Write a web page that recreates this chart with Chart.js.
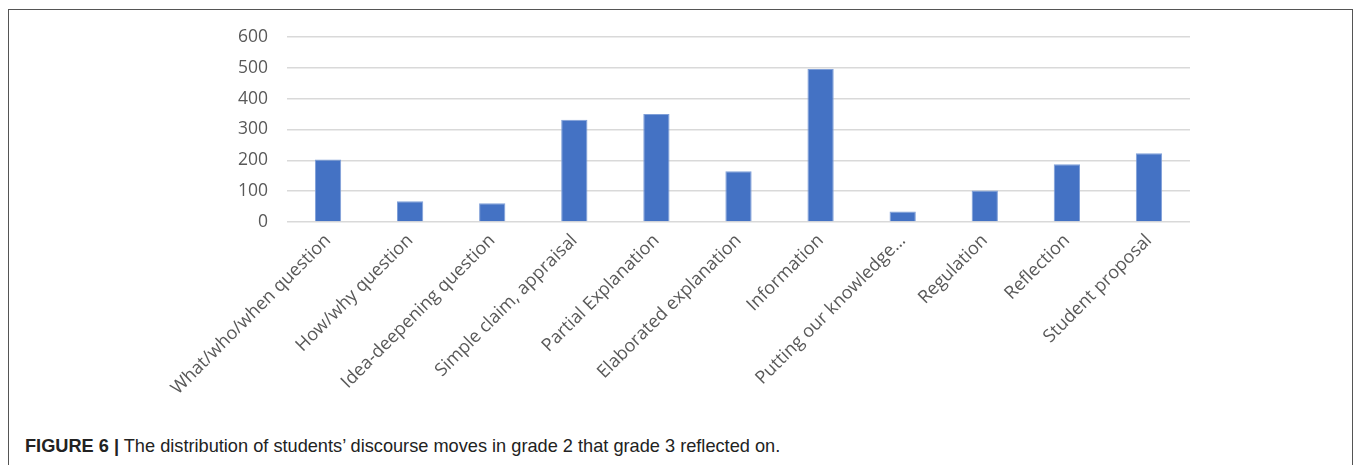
<!DOCTYPE html>
<html>
<head>
<meta charset="utf-8">
<script src="https://cdn.jsdelivr.net/npm/chart.js@4.4.0/dist/chart.umd.min.js"></script>
<style>
  html, body { margin: 0; padding: 0; background: #fff; }
  body { width: 1357px; height: 465px; position: relative; overflow: hidden; }
  .frame {
    position: absolute; left: 8px; top: 9px; width: 1345px; height: 470px;
    border: 1.5px solid #555; border-bottom: none; box-sizing: border-box;
  }
  .chart-box { position: absolute; left: 0; top: 0; width: 1357px; height: 420px; }
  .caption {
    position: absolute; left: 25px; top: 436px;
    font-family: "Liberation Sans", Arial, sans-serif;
    font-size: 18.2px; color: #222; white-space: nowrap;
  }
  .caption b { font-weight: bold; }
</style>
</head>
<body>
<div class="frame"></div>
<div class="chart-box"><canvas id="movesChart" width="1357" height="420"></canvas></div>
<div class="caption"><b>FIGURE 6 |</b> The distribution of students’ discourse moves in grade 2 that grade 3 reflected on.</div>

<script>
// discourse move categories
const categories = [
  'What/who/when question',
  'How/why question',
  'Idea-deepening question',
  'Simple claim, appraisal',
  'Partial Explanation',
  'Elaborated explanation',
  'Information',
  'Putting our knowledge…',
  'Regulation',
  'Reflection',
  'Student proposal'
];

// counts
const moveCounts = [203, 67, 61, 332, 350, 165, 496, 34, 102, 187, 223];

const yTicks = [0, 100, 200, 300, 400, 500, 600];

const ctx = document.getElementById('movesChart');
const movesChart = new Chart(ctx, {
  type: 'bar',
  data: {
    labels: categories,
    datasets: [{
      label: 'Discourse moves',
      data: moveCounts,
      backgroundColor: '#4472C4',
      borderColor: '#7F9FD8',
      borderWidth: 1,
      barPercentage: 0.64,
      categoryPercentage: 0.5
    }]
  },
  options: {
    responsive: false,
    animation: false,
    layout: {
      padding: { left: 0, right: 167, top: 37, bottom: 0 }
    },
    plugins: {
      legend: { display: false },
      tooltip: { enabled: false }
    },
    scales: {
      x: {
        grid: { display: false },
        border: { display: false },
        ticks: {
          color: '#595959',
          font: { family: 'Open Sans', size: 18 },
          maxRotation: 45,
          minRotation: 45,
          autoSkip: false,
          padding: 0
        },
        afterFit: (scale) => { scale.height = 420 - 222; }
      },
      y: {
        min: 0,
        max: 600,
        afterBuildTicks: (scale) => {
          scale.ticks = yTicks.map(v => ({ value: v }));
        },
        grid: { color: '#D9D9D9', lineWidth: 1.5, drawTicks: false },
        border: { display: false },
        ticks: {
          color: '#595959',
          font: { family: 'Open Sans', size: 17.5 },
          padding: 19
        },
        afterFit: (scale) => { scale.width = 287; }
      }
    }
  }
});
</script>
</body>
</html>
